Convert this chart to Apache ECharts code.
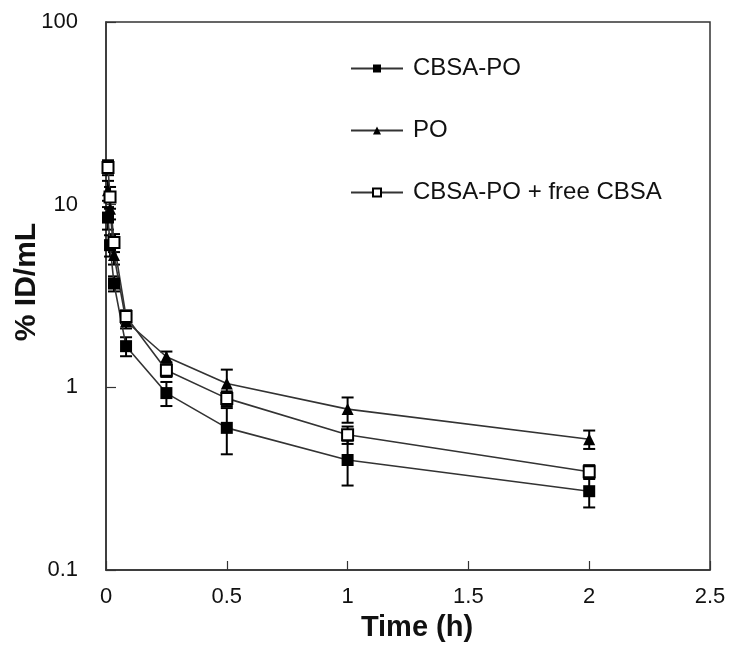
<!DOCTYPE html>
<html><head><meta charset="utf-8">
<script src="https://cdn.jsdelivr.net/npm/echarts@6/dist/echarts.min.js"></script>
<style>html,body{margin:0;padding:0;background:#fff}#c{width:729px;height:662px}</style>
</head><body><div id="c"></div>
<script>
const times = [0.0083, 0.0167, 0.033, 0.083, 0.25, 0.5, 1, 2];
const seriesNames = ['CBSA-PO', 'PO', 'CBSA-PO + free CBSA'];
const cbsaPO = [8.5, 6.0, 3.7, 1.68, 0.93, 0.6, 0.4, 0.27];
const cbsaPOErr = [1.2, 0.8, 0.35, 0.2, 0.14, 0.17, 0.11, 0.05];
const po = [12, 9.5, 5.3, 2.3, 1.47, 1.05, 0.76, 0.52];
const poErr = [1.5, 1.2, 0.6, 0.2, 0.1, 0.2, 0.12, 0.06];
const freeCBSA = [16, 11, 6.2, 2.44, 1.24, 0.87, 0.55, 0.345];
const freeCBSAErr = [1.5, 1.5, 0.7, 0.2, 0.1, 0.08, 0.06, 0.03];
const xTicks = [0, 0.5, 1, 1.5, 2, 2.5];
const yTicks = [0.1, 1, 10, 100];
const xTitle = 'Time (h)';
const yTitle = '% ID/mL';

const chart = echarts.init(document.getElementById('c'));
const font = 'Liberation Sans, Arial, sans-serif';

function pts(vals){ return times.map((t,i)=>[t, vals[i]]); }
function errData(vals, errs){ return times.map((t,i)=>[t, vals[i]-errs[i], vals[i]+errs[i]]); }
function errSeries(name, vals, errs){
  return {
    type: 'custom', name: name + ' err', silent: true, z: 3,
    data: errData(vals, errs),
    encode: {x: 0, y: [1, 2]},
    renderItem: function(params, api){
      const lo = api.coord([api.value(0), api.value(1)]);
      const hi = api.coord([api.value(0), api.value(2)]);
      const w = 6;
      const st = {stroke: '#000', lineWidth: 2};
      return {type: 'group', children: [
        {type: 'line', shape: {x1: lo[0], y1: lo[1], x2: hi[0], y2: hi[1]}, style: st},
        {type: 'line', shape: {x1: lo[0]-w, y1: lo[1], x2: lo[0]+w, y2: lo[1]}, style: st},
        {type: 'line', shape: {x1: hi[0]-w, y1: hi[1], x2: hi[0]+w, y2: hi[1]}, style: st}
      ]};
    }
  };
}

const lineStyle = {color: '#333', width: 1.6};
chart.setOption({
  animation: false,
  grid: {left: 106, right: 19, top: 22, bottom: 92, show: true, borderColor: '#333', borderWidth: 1.5, backgroundColor: 'transparent'},
  legend: {
    orient: 'vertical', left: 345, top: 51, itemGap: 37, itemWidth: 52, itemHeight: 10,
    textStyle: {fontFamily: font, fontSize: 24, lineHeight: 25, color: '#111', padding: [0,0,0,5]},
    data: seriesNames
  },
  graphic: [
    {type: 'text', x: 417, y: 628, style: {text: xTitle, font: 'bold 29px ' + font, fill: '#111', textAlign: 'center', textVerticalAlign: 'middle'}},
    {type: 'text', x: 27, y: 282, rotation: Math.PI / 2, style: {text: yTitle, font: 'bold 30px ' + font, fill: '#111', textAlign: 'center', textVerticalAlign: 'middle'}}
  ],
  xAxis: {
    type: 'value', min: 0, max: 2.5, interval: 0.5,
    axisLine: {show: true, lineStyle: {color: '#333', width: 1.5}},
    axisTick: {show: true, inside: true, length: 9, lineStyle: {color: '#333', width: 1.2}},
    axisLabel: {fontFamily: font, fontSize: 22, color: '#111', margin: 16,
      formatter: v => (xTicks.indexOf(v) >= 0 ? String(v) : '')},
    splitLine: {show: false}
  },
  yAxis: {
    type: 'log', logBase: 10, min: 0.1, max: 100,
    axisLine: {show: true, lineStyle: {color: '#333', width: 1.5}},
    axisTick: {show: true, inside: true, length: 10, lineStyle: {color: '#333', width: 1.2}},
    axisLabel: {fontFamily: font, fontSize: 22, color: '#111', margin: 28,
      formatter: v => { const r = yTicks.find(t => Math.abs(t - v) / t < 1e-6); return r !== undefined ? String(r) : ''; }},
    splitLine: {show: false}
  },
  series: [
    errSeries(seriesNames[0], cbsaPO, cbsaPOErr),
    errSeries(seriesNames[1], po, poErr),
    errSeries(seriesNames[2], freeCBSA, freeCBSAErr),
    {name: seriesNames[0], type: 'line', data: pts(cbsaPO), symbol: 'rect', symbolSize: 12,
      lineStyle: lineStyle, itemStyle: {color: '#000'}, z: 4},
    {name: seriesNames[1], type: 'line', data: pts(po), symbol: 'triangle', symbolSize: 12,
      lineStyle: lineStyle, itemStyle: {color: '#000'}, z: 4},
    {name: seriesNames[2], type: 'line', data: pts(freeCBSA), symbol: 'rect', symbolSize: 11,
      lineStyle: lineStyle, itemStyle: {color: '#fff', borderColor: '#000', borderWidth: 2}, z: 4}
  ]
});
</script></body></html>
